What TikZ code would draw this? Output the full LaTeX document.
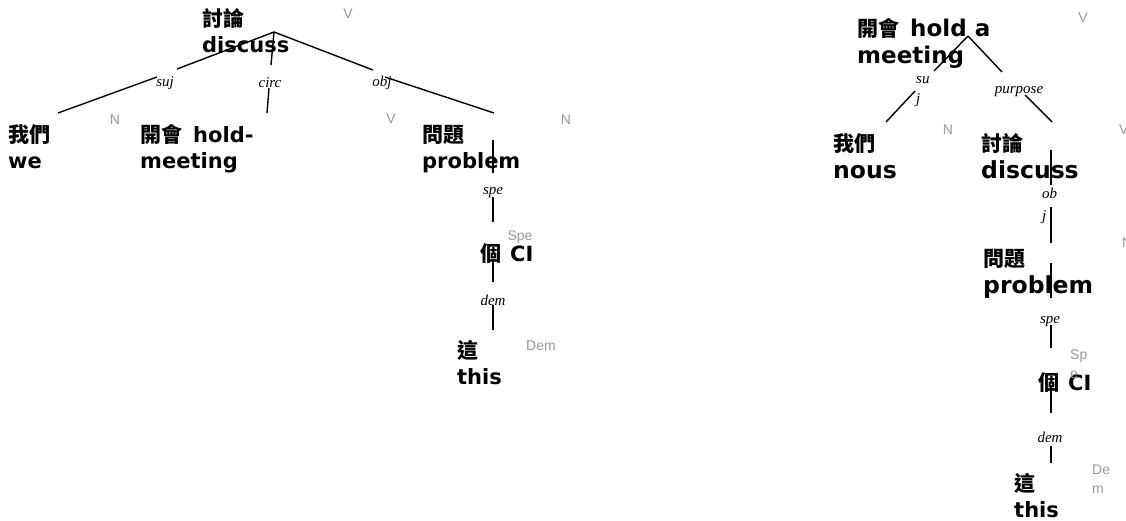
\documentclass[tikz,border=0pt]{standalone}
\usepackage{fontspec}
\setmainfont{DejaVu Sans}
\newfontfamily\cjkfont{Noto Sans CJK TC}
\newfontfamily\labfont{Liberation Serif}
\newfontfamily\catfont{Liberation Sans}
\definecolor{catgray}{HTML}{999999}
\newcommand{\zhR}[1]{{\fontsize{21}{26.5}\selectfont\cjkfont #1}}
\tikzset{
  word/.style={anchor=base west, inner sep=0pt, align=left,
    font=\fontsize{21}{26}\selectfont\bfseries},
  wordR/.style={word, font=\fontsize{23.5}{26.5}\selectfont\bfseries},
  rel/.style={inner sep=0pt, font=\fontsize{15}{20}\selectfont\labfont\itshape},
  rellines/.style={rel, anchor=north west, align=left},
  cat/.style={inner sep=0pt, text=catgray, font=\fontsize{14}{18}\selectfont\catfont},
  edge/.style={line width=1.4pt},
}
\begin{document}
\begin{tikzpicture}[x=1pt,y=-1pt]
\useasboundingbox (0,0) rectangle (1126,520);
% ---------- left tree ----------
\node[word] (L0) at (202,52) {{\cjkfont 討論}\\discuss};
\node[cat] (L0c) at (348,14) {V};
\node[word] (L1) at (8,168) {{\cjkfont 我們}\\we};
\node[cat] (L1c) at (115,120) {N};
\node[word] (L2) at (140,168) {{\cjkfont 開會}\hspace{11pt}hold-\\meeting};
\node[cat] (L2c) at (391,119) {V};
\node[word] (L3) at (422,168) {{\cjkfont 問題}\\problem};
\node[cat] (L3c) at (566,120) {N};
\node[word] (L4) at (480,261) {{\cjkfont 個}\hspace{9pt}CI};
\node[cat] (L4c) at (520,237) {Spe};
\node[word] (L5) at (457,384) {{\cjkfont 這}\\this};
\node[cat] (L5c) at (541,346) {Dem};

\node[rel] (suj) at (165,83) {suj};
\node[rel] (circ) at (270,83) {circ};
\node[rel] (obj) at (382,83) {obj};
\node[rel] (spe) at (493,193) {spe};
\node[rel] (dem) at (493,300) {dem};

\coordinate (La) at (274,32);
\coordinate (suj1) at (177,69); \coordinate (suj2) at (157,77); \coordinate (L1t) at (58,113);
\coordinate (circ1) at (271,65); \coordinate (circ2) at (269,88); \coordinate (L2t) at (267,113);
\coordinate (obj1) at (373,70); \coordinate (obj2) at (385,77); \coordinate (L3t) at (494,113);
\coordinate (L3b) at (493,140); \coordinate (spe1) at (493,173); \coordinate (spe2) at (493,197); \coordinate (L4t) at (493,222);
\coordinate (L4b) at (493,260); \coordinate (dem1) at (493,282); \coordinate (dem2) at (493,305); \coordinate (L5t) at (493,330);

\draw[edge] (La) -- (suj1) (suj2) -- (L1t);
\draw[edge] (La) -- (circ1) (circ2) -- (L2t);
\draw[edge] (La) -- (obj1) (obj2) -- (L3t);
\draw[edge] (L3b) -- (spe1) (spe2) -- (L4t);
\draw[edge] (L4b) -- (dem1) (dem2) -- (L5t);

% ---------- right tree ----------
\node[wordR, font=\fontsize{23}{26.5}\selectfont\bfseries] (R0) at (857,63) {\zhR{開會}\hspace{11pt}hold a\\meeting};
\node[cat] (R0c) at (1083,18) {V};
\node[wordR] (R1) at (833,178) {\zhR{我們}\\nous};
\node[cat] (R1c) at (948,130) {N};
\node[wordR] (R2) at (981,178) {\zhR{討論}\\discuss};
\node[cat, anchor=west] (R2c) at (1119,130) {V};
\node[wordR] (R3) at (983,293) {\zhR{問題}\\problem};
\node[cat, anchor=west] (R3c) at (1122,243) {N};
\node[word] (R4) at (1038,390) {{\cjkfont 個}\hspace{9pt}CI};
\node[cat, anchor=north west, align=left, font=\fontsize{14}{19}\selectfont\catfont] (R4c) at (1070,350) {Sp\\e};
\node[cat, anchor=north west, align=left, font=\fontsize{14}{19}\selectfont\catfont] (R5c) at (1092,465) {De\\m};
\node[word] (R5) at (1014,517) {{\cjkfont 這}\\this};

\node[rellines] (sujR) at (916,76) {su\\j};
\node[rel] (purp) at (1019,92) {purpose};
\node[rellines, font=\fontsize{15}{22}\selectfont\labfont\itshape] (objR) at (1042,188) {ob\\j};
\node[rel] (speR) at (1050,322) {spe};
\node[rel] (demR) at (1050,437) {dem};

\coordinate (Ra) at (968,36);
\coordinate (rs1) at (934,71); \coordinate (rs2) at (915,91); \coordinate (R1t) at (886,122);
\coordinate (rp1) at (1002,72); \coordinate (rp2) at (1025,95); \coordinate (R2t) at (1052,122);
\coordinate (R2b) at (1051,150); \coordinate (ro1) at (1051,185); \coordinate (ro2) at (1051,207); \coordinate (R3t) at (1051,243);
\coordinate (R3b) at (1051,263); \coordinate (rsp1) at (1051,298); \coordinate (rsp2) at (1051,325); \coordinate (R4t) at (1051,348);
\coordinate (R4b) at (1051,385); \coordinate (rd1) at (1051,413); \coordinate (rd2) at (1051,446); \coordinate (R5t) at (1051,463);

\draw[edge] (Ra) -- (rs1) (rs2) -- (R1t);
\draw[edge] (Ra) -- (rp1) (rp2) -- (R2t);
\draw[edge] (R2b) -- (ro1) (ro2) -- (R3t);
\draw[edge] (R3b) -- (rsp1) (rsp2) -- (R4t);
\draw[edge] (R4b) -- (rd1) (rd2) -- (R5t);
\end{tikzpicture}
\end{document}
